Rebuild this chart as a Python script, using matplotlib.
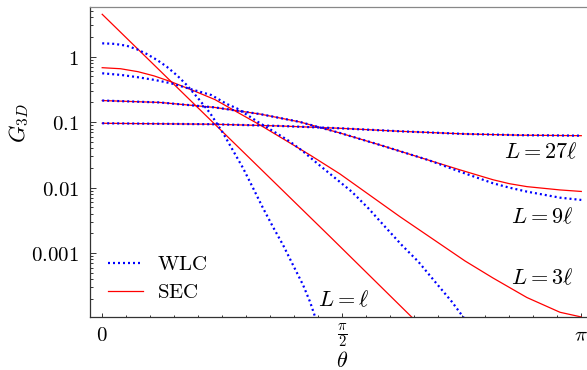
import numpy as np
import matplotlib
matplotlib.use("Agg")
import matplotlib.pyplot as plt
from matplotlib.ticker import FixedLocator, FixedFormatter, LogLocator, NullFormatter

plt.rcParams["mathtext.fontset"] = "cm"

# values (theta in rad, G_3D)
th_l_sec = [0.0, 0.5, 1.0, 1.5, 2.04]
g_l_sec = [4.44, 0.324, 0.0237, 0.00173, 1.0e-4]

th_l_wlc = [0.0, 0.08, 0.161, 0.23, 0.292, 0.36, 0.423, 0.49, 0.554, 0.63, 0.707,
            0.792, 0.882, 0.923, 0.989, 1.054, 1.120, 1.186, 1.251, 1.317, 1.363,
            1.40]
g_l_wlc = [1.60, 1.57, 1.47, 1.29, 1.10, 0.89, 0.704, 0.52, 0.370, 0.23, 0.138,
           0.0684, 0.0294, 0.0200, 0.00989, 0.00490, 0.00251, 0.00133, 6.6e-4,
           3.27e-4, 1.80e-4, 1.0e-4]

th_3l_sec = [0.0, 0.12, 0.235, 0.34, 0.451, 0.6, 0.738, 1.035, 1.362, 1.559, 1.952,
             2.17, 2.379, 2.562, 2.785, 3.002, np.pi]
g_3l_sec = [0.679, 0.655, 0.590, 0.509, 0.415, 0.302, 0.222, 0.0906, 0.0316,
            0.0162, 0.00361, 0.00163, 7.6e-4, 4.18e-4, 2.1e-4, 1.25e-4, 1.06e-4]

th_3l_wlc = [0.0, 0.125, 0.235, 0.345, 0.453, 0.584, 0.715, 0.816, 0.882, 0.969,
             1.035, 1.144, 1.232, 1.319, 1.407, 1.559, 1.636, 1.745, 1.854, 1.964,
             2.073, 2.182, 2.292, 2.375]
g_3l_wlc = [0.558, 0.526, 0.485, 0.441, 0.392, 0.318, 0.260, 0.190, 0.163, 0.121,
            0.0962, 0.0677, 0.0504, 0.0355, 0.0238, 0.0122, 0.00869, 0.00485,
            0.00254, 0.00133, 7.41e-4, 3.67e-4, 1.82e-4, 1.0e-4]

th_9l = [0.0, 0.379, 0.738, 1.035, 1.297, 1.559, 1.821, 2.136, 2.346, 2.563, 2.67,
         2.786, 3.002, np.pi]
g_9l_sec = [0.214, 0.200, 0.168, 0.133, 0.1007, 0.0684, 0.0449, 0.0265, 0.0187,
            0.0132, 0.0115, 0.01036, 0.00923, 0.00875]
g_9l_wlc = [0.214, 0.200, 0.168, 0.133, 0.1007, 0.0684, 0.0449, 0.0265, 0.01755,
            0.01167, 0.0100, 0.00869, 0.00703, 0.00649]

th_27l = [0.0, 0.740, 1.166, 1.559, 1.952, 2.379, 2.740, np.pi]
g_27l = [0.0962, 0.0929, 0.0875, 0.0807, 0.0726, 0.0661, 0.0633, 0.0622]

fig = plt.figure(figsize=(5.87, 3.70), dpi=100)
ax = fig.add_axes([90 / 587, 53.3 / 370, 497 / 587, 310 / 370])

red = dict(color="#ff0000", lw=0.9)
blue = dict(color="#0000ff", lw=1.6, linestyle=(0, (0.9, 1.35)))

sec, = ax.plot(th_l_sec, g_l_sec, **red)
ax.plot(th_3l_sec, g_3l_sec, **red)
ax.plot(th_9l, g_9l_sec, **red)
ax.plot(th_27l, g_27l, **red)

wlc, = ax.plot(th_l_wlc, g_l_wlc, **blue)
ax.plot(th_3l_wlc, g_3l_wlc, **blue)
ax.plot(th_9l, g_9l_wlc, **blue)
ax.plot(th_27l, g_27l, **blue)

ax.set_yscale("log")
ax.set_xlim(-0.080, 3.179)
ax.set_ylim(1.07e-4, 5.8)

ax.xaxis.set_major_locator(FixedLocator([0, np.pi / 2, np.pi]))
ax.xaxis.set_major_formatter(FixedFormatter([r"$0$", r"$\frac{\pi}{2}$", r"$\pi$"]))
ax.xaxis.set_minor_locator(FixedLocator(np.arange(0, 21) * np.pi / 20))

ax.yaxis.set_major_locator(FixedLocator([1e-3, 1e-2, 1e-1, 1]))
ax.yaxis.set_major_formatter(FixedFormatter([r"$0.001$", r"$0.01$", r"$0.1$", r"$1$"]))
ax.yaxis.set_minor_locator(LogLocator(base=10, subs=np.arange(2, 10), numticks=20))
ax.yaxis.set_minor_formatter(NullFormatter())

ax.tick_params(which="both", direction="in", top=False, right=False,
               labelsize=15, color="#333333", width=0.7)
ax.xaxis.set_tick_params(which="major", length=3, pad=13.5)
ax.xaxis.set_tick_params(which="minor", length=1.6)
ax.yaxis.set_tick_params(which="major", length=4.5, pad=8)
ax.yaxis.set_tick_params(which="minor", length=2.4)
for lab in ax.get_xticklabels():
    lab.set_va("center")

ax.spines["right"].set_visible(False)
ax.spines["top"].set_color("#888888")
ax.spines["left"].set_color("#333333")
ax.spines["bottom"].set_color("#333333")
for s in ("top", "left", "bottom"):
    ax.spines[s].set_linewidth(0.9)

ax.set_ylabel(r"$G_{3D}$", fontsize=16)
ax.yaxis.label.set_va("center")
ax.yaxis.set_label_coords(-0.143, 0.625)
ax.set_xlabel(r"$\theta$", fontsize=16)
ax.xaxis.label.set_va("center")
ax.xaxis.set_label_coords(0.507, -0.142)

ax.text(3.113, 0.0351, r"$L=27\ell$", fontsize=16, ha="right", va="center")
ax.text(3.087, 0.00357, r"$L=9\ell$", fontsize=16, ha="right", va="center")
ax.text(3.087, 4.18e-4, r"$L=3\ell$", fontsize=16, ha="right", va="center")
ax.text(1.415, 1.93e-4, r"$L=\ell$", fontsize=16, ha="left", va="center")

ax.legend([wlc, sec], [r"$\mathrm{WLC}$", r"$\mathrm{SEC}$"], loc="upper left",
          bbox_to_anchor=(0.036, 0.202), frameon=False, fontsize=15,
          handlelength=1.7, handletextpad=0.65, labelspacing=0.4,
          borderpad=0, borderaxespad=0)

fig.savefig("out.png", dpi=100)
